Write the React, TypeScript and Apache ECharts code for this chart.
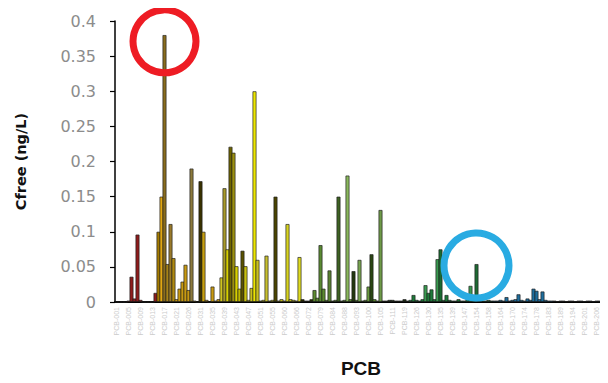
import React, { useEffect, useRef } from "react";
import * as echarts from "echarts";

// PCB congener numbers (x categories)
const congeners: number[] = [
  1, 2, 3, 4, 5, 6, 7, 8, 9, 10, 11, 12, 13, 14, 15, 16, 17, 18, 19, 20, 21, 22,
  24, 25, 26, 27, 28, 29,
  31, 32, 33, 34, 35, 36, 37, 38, 39, 40, 41, 42, 43, 44, 45, 46, 47, 48, 49, 50, 51, 52, 53, 54, 55, 56, 57,
  59, 60, 61, 63, 64, 66, 67, 68, 70, 72, 74, 77, 78, 79,
  81, 82, 83, 84, 85, 86, 87, 88, 90, 91, 92, 93, 95, 97, 99, 100, 101,
  103, 104, 105, 107, 109, 110, 111, 112, 114, 118, 119, 120, 121, 123,
  126, 127, 128, 129, 130, 131, 132, 134, 135, 136, 137, 138, 139,
  141, 144, 146, 147, 149, 151, 153, 154, 155, 156, 157, 158, 159,
  161, 163, 164, 165, 167, 169, 170, 171, 172, 173, 174, 175, 176, 177, 178, 179, 180, 181,
  183, 184, 185, 187, 189, 190, 191, 193, 194, 195, 197, 199, 201, 203, 204, 205, 206, 207, 208, 209,
];

// Cfree (ng/L) per congener
const cfree: number[] = [
  0, 0, 0, 0, 0.002, 0.036, 0.005, 0.096, 0.003, 0,
  0, 0, 0, 0.013, 0.1, 0.15, 0.38, 0.054, 0.111, 0.0625,
  0.004, 0.019, 0.029, 0.053, 0.017, 0.19, 0.002, 0, 0.172, 0.1,
  0.003, 0, 0.022, 0.002, 0.004, 0.035, 0.162, 0.075, 0.221, 0.2125,
  0.051, 0.019, 0.073, 0.051, 0.003, 0.02, 0.3, 0.06, 0.002, 0.003,
  0.066, 0.002, 0.003, 0.15, 0.002, 0.004, 0.002, 0.111, 0.004, 0.003,
  0.002, 0.064, 0.004, 0.002, 0.002, 0.004, 0.017, 0.006, 0.081, 0.019,
  0.003, 0.045, 0.002, 0.003, 0.15, 0.002, 0.003, 0.18, 0.004, 0.044,
  0.003, 0.06, 0.002, 0.003, 0.022, 0.068, 0.004, 0.002, 0.131, 0.002,
  0.002, 0.003, 0.003, 0.002, 0.002, 0.002, 0.004, 0.002, 0.003, 0.01,
  0.003, 0.002, 0.004, 0.024, 0.013, 0.018, 0.004, 0.061, 0.075, 0.003,
  0.01, 0.003, 0.002, 0.002, 0.004, 0.002, 0.002, 0.004, 0.023, 0.003,
  0.054, 0.002, 0.002, 0.002, 0.003, 0.002, 0.002, 0.002, 0.003, 0.002,
  0.007, 0.002, 0.003, 0.004, 0.011, 0.003, 0.002, 0.005, 0.003, 0.019,
  0.016, 0.004, 0.015, 0.003, 0.002, 0.002, 0.002, 0.001, 0.002, 0.002,
  0.001, 0.002, 0.002, 0.001, 0.002, 0.002, 0.001, 0.002, 0.002, 0.001,
  0.002, 0.002, 0.001, 0.002,
];

// Highlighted congeners [category index, value at ring centre]
const highlightRed: [number, number] = [16, 0.371];
const highlightBlue: [number, number] = [120, 0.052];

const yTicks = { min: 0, max: 0.4, interval: 0.05 };

function barColor(i: number): string {
  const special: Record<number, string> = {
    14: "#a47a00", 15: "#e3a812", 16: "#8a6d1e", 17: "#a88418", 18: "#9a7a2a", 19: "#b08a10",
    25: "#8c7a3c", 28: "#3a3200", 29: "#c8a010", 35: "#d0c420", 36: "#a89a2a", 37: "#d8d000",
    38: "#6e6400", 39: "#9c9010", 40: "#d8d000", 41: "#c0b800", 42: "#5a5200", 43: "#c8c010",
    46: "#ece600", 47: "#c8c020", 50: "#c8c030", 53: "#4a4400", 57: "#d8d420", 61: "#e0dc20",
    66: "#5c8a30", 68: "#5a8a32", 71: "#5a8232", 74: "#3e6222", 77: "#8ab85c", 79: "#22380e",
    81: "#78a450", 84: "#6a9a40", 85: "#2a4612", 88: "#6e9a48",
    103: "#3a9a50", 107: "#3a9a50", 108: "#1a6a30", 118: "#3a9a50", 120: "#1e6a34",
  };
  if (special[i]) return special[i];
  if (i <= 13) return "#8f1c1c";
  if (i <= 34) return "#c89a12";
  if (i <= 61) return "#c8c020";
  if (i <= 65) return "#2a2a00";
  if (i <= 88) return "#5c8a30";
  if (i <= 97) return "#1a2a10";
  if (i <= 125) return "#1e7a3a";
  if (i <= 145) return "#1e6e9e";
  return "#1a1a1a";
}

export default function App() {
  const ref = useRef<HTMLDivElement>(null);
  useEffect(() => {
    if (!ref.current) return;
    const chart = echarts.init(ref.current, undefined, { renderer: "svg" });
    const labels = congeners.map((n) => "PCB-" + String(n).padStart(3, "0"));
    chart.setOption({
      animation: false,
      backgroundColor: "#ffffff",
      grid: { left: 115, right: 1, top: 21, bottom: 76, containLabel: false },
      xAxis: {
        type: "category",
        data: labels,
        name: "PCB",
        nameLocation: "middle",
        nameGap: 57,
        nameTextStyle: { fontFamily: "Liberation Sans", fontWeight: "bold", fontSize: 19, color: "#111" },
        axisLine: { lineStyle: { color: "#000", width: 2 } },
        axisTick: { show: false },
        axisLabel: {
          interval: 3,
          rotate: 90,
          fontSize: 7,
          color: "#cccccc",
          margin: 5,
          fontFamily: "Liberation Sans",
        },
      },
      yAxis: {
        type: "value",
        min: yTicks.min,
        max: yTicks.max,
        interval: yTicks.interval,
        name: "Cfree (ng/L)",
        nameLocation: "middle",
        nameGap: 87,
        nameRotate: 90,
        nameTextStyle: { fontFamily: "DejaVu Sans", fontWeight: "bold", fontSize: 14.5, color: "#111" },
        axisLine: { show: true, lineStyle: { color: "#000", width: 1.5 } },
        axisTick: { show: true, length: 5, lineStyle: { color: "#000", width: 1.2 } },
        splitLine: { show: false },
        axisLabel: {
          margin: 19,
          fontSize: 16,
          color: "#8c8c8c",
          fontFamily: "DejaVu Sans",
          formatter: (v: number) => String(Math.round(v * 100) / 100),
        },
      },
      series: [
        {
          type: "bar",
          data: cfree.map((v, i) => ({
            value: v,
            itemStyle: { color: barColor(i) },
          })),
          barWidth: 4,
          itemStyle: { borderColor: "rgba(30,30,30,0.85)", borderWidth: 0.8 },
        },
        {
          type: "scatter",
          silent: true,
          data: [
            {
              value: highlightRed,
              symbolSize: 63,
              itemStyle: { color: "rgba(0,0,0,0)", borderColor: "#ee1c24", borderWidth: 7, opacity: 1 },
            },
            {
              value: highlightBlue,
              symbolSize: 65,
              itemStyle: { color: "rgba(0,0,0,0)", borderColor: "#29abe2", borderWidth: 7, opacity: 1 },
            },
          ],
          z: 10,
        },
      ],
    });
    return () => chart.dispose();
  }, []);
  return <div ref={ref} style={{ width: 608, height: 383, margin: -8 }} />;
}
